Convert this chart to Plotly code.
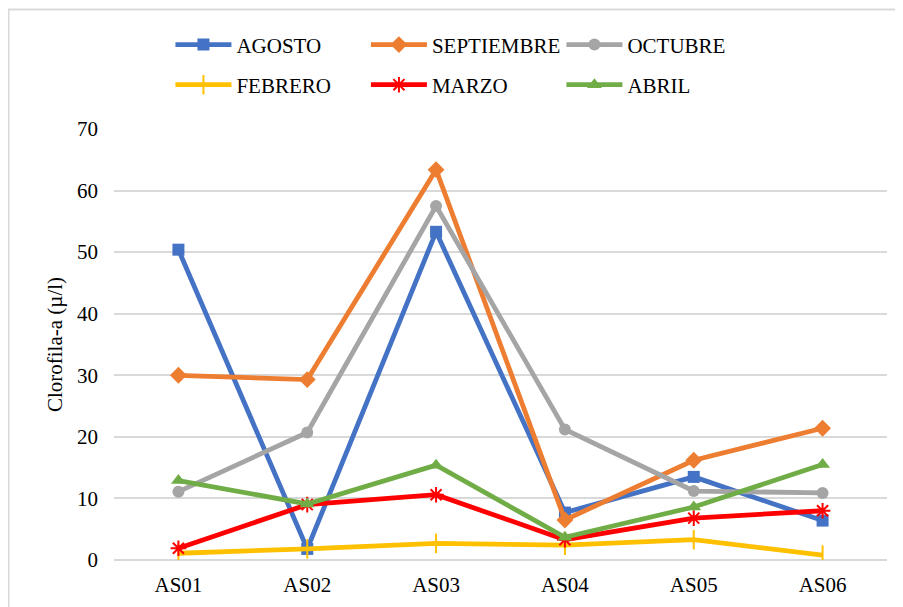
import plotly.graph_objects as go

categories = ["AS01", "AS02", "AS03", "AS04", "AS05", "AS06"]
agosto = [50.4, 1.8, 53.3, 7.7, 13.5, 6.4]
septiembre = [30.0, 29.3, 63.4, 6.5, 16.2, 21.4]
octubre = [11.1, 20.7, 57.5, 21.2, 11.2, 10.9]
febrero = [1.1, 1.8, 2.7, 2.4, 3.3, 0.8]
marzo = [1.9, 9.0, 10.6, 3.3, 6.8, 8.0]
abril = [12.9, 9.1, 15.4, 3.7, 8.6, 15.5]
y_ticks = [0, 10, 20, 30, 40, 50, 60, 70]

FONT = "Liberation Serif"

series = [
    ("AGOSTO", agosto, "#4472C4", "square", 12, "legend"),
    ("SEPTIEMBRE", septiembre, "#ED7D31", "diamond", 13, "legend"),
    ("OCTUBRE", octubre, "#A5A5A5", "circle", 12, "legend"),
    ("FEBRERO", febrero, "#FFC000", "line-ns", 14, "legend2"),
    ("MARZO", marzo, "#FF0000", "asterisk-open", 13, "legend2"),
    ("ABRIL", abril, "#70AD47", "triangle-up", 13, "legend2"),
]

fig = go.Figure()
for name, vals, color, sym, size, lg in series:
    fig.add_trace(go.Scatter(
        x=categories, y=vals, name=name, mode="lines+markers",
        line=dict(color=color, width=4.8),
        marker=dict(symbol=sym, size=size, color=color,
                    line=dict(color=color, width=2 if sym in ("line-ns", "asterisk-open") else 0)),
        legend=lg,
    ))

# page has an 8px body margin; figure is placed at (8, 8)
fig.update_layout(
    width=895, height=599,
    margin=dict(l=106, r=16, t=121, b=47, autoexpand=False),
    paper_bgcolor="white", plot_bgcolor="white",
    font=dict(family=FONT, size=21, color="#000000"),
    xaxis=dict(type="category", range=[-0.5, 5.5], showgrid=False, automargin=False,
               showline=False, ticks="", tickfont=dict(family=FONT, size=21, color="#000000"),
               ticklabelstandoff=10, zeroline=False),
    yaxis=dict(range=[0, 70], tickvals=y_ticks, showgrid=True, automargin=False,
               gridcolor="#D9D9D9", gridwidth=1.5, zeroline=True,
               zerolinecolor="#D9D9D9", zerolinewidth=1.5,
               showline=False, ticks="", tickfont=dict(family=FONT, size=21, color="#000000"),
               ticklabelstandoff=15,
               title=dict(text="Clorofila-a (µ/l)", font=dict(family=FONT, size=21, color="#000000"),
                          standoff=8)),
    legend=dict(orientation="h", x=0.073, xanchor="left", y=1.195, yanchor="middle",
                itemwidth=56, entrywidth=124.5,
                font=dict(family=FONT, size=21, color="#000000"),
                bgcolor="rgba(0,0,0,0)", tracegroupgap=0),
    legend2=dict(orientation="h", x=0.073, xanchor="left", y=1.102, yanchor="middle",
                 itemwidth=56, entrywidth=124.5,
                 font=dict(family=FONT, size=21, color="#000000"),
                 bgcolor="rgba(0,0,0,0)", tracegroupgap=0),
    showlegend=True,
    shapes=[dict(type="rect", xref="paper", yref="paper",
                 x0=(0.5 - 106) / 773, x1=(940 - 106) / 773,
                 y0=(431 - 640) / 431, y1=(431 + 121 - 1.5) / 431,
                 line=dict(color="#D9D9D9", width=2), layer="below")],
)

fig.write_html("out.html")
